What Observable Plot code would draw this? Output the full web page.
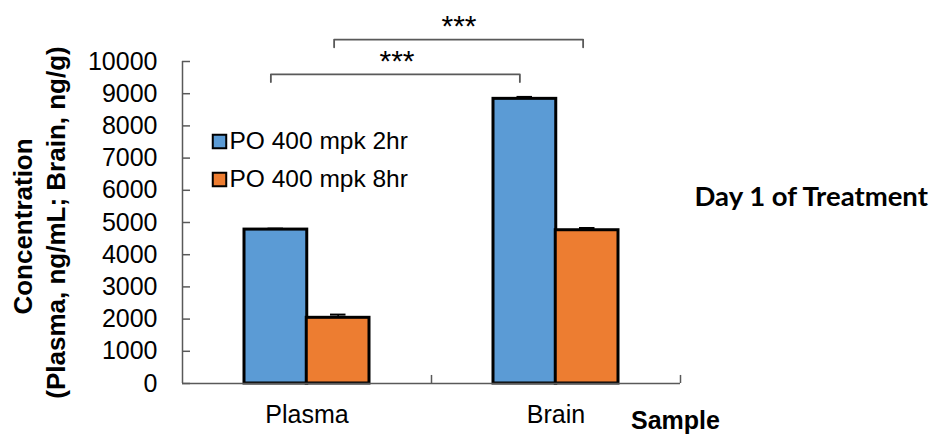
<!DOCTYPE html>
<html>
<head>
<meta charset="utf-8">
<script src="https://cdn.jsdelivr.net/npm/d3@7"></script>
<script src="https://cdn.jsdelivr.net/npm/@observablehq/plot@0.6"></script>
<style>
  html, body { margin: 0; padding: 0; background: #fff; }
  #chart svg { display: block; }
</style>
</head>
<body>
<div id="chart"></div>
<script>
// ---- data ----
const samples = ["Plasma", "Brain"];
const series = ["PO 400 mpk 2hr", "PO 400 mpk 8hr"];
const values2hr = [4780, 8840];
const values8hr = [2040, 4760];
const errors2hr = [30, 60];
const errors8hr = [100, 70];
const yTicks = [0, 1000, 2000, 3000, 4000, 5000, 6000, 7000, 8000, 9000, 10000];
const colors = ["#5B9BD5", "#ED7D31"];
// significance brackets (2hr Plasma vs Brain, 8hr Plasma vs Brain)
const bracketLabels = ["***", "***"];
const bracketTop = [9600, 10680];
const bracketLeg = [9360, 10440];
const starBase = [9700, 10790];

const rows2 = samples.map((s, i) => ({sample: s, value: values2hr[i], err: errors2hr[i]}));
const rows8 = samples.map((s, i) => ({sample: s, value: values8hr[i], err: errors8hr[i]}));

const bracketPts = [];
bracketTop.forEach((t, k) => {
  bracketPts.push({k, sample: "Plasma", y: bracketLeg[k]});
  bracketPts.push({k, sample: "Plasma", y: t});
  bracketPts.push({k, sample: "Brain", y: t});
  bracketPts.push({k, sample: "Brain", y: bracketLeg[k]});
});

const AX = "#595959";
const FONT = "'Liberation Sans', Arial, sans-serif";
const half = 62.25; // half of the band (one bar width)

const marks = [
  // inside y ticks
  Plot.ruleY(yTicks, {stroke: AX, strokeWidth: 1.5, insetRight: 490}),
  // bars
  Plot.barY(rows2, {x: "sample", y: "value", fill: colors[0], stroke: "#000", strokeWidth: 3, insetRight: half}),
  Plot.barY(rows8, {x: "sample", y: "value", fill: colors[1], stroke: "#000", strokeWidth: 3, insetLeft: half}),
  // error bars
  Plot.ruleX(rows2, {x: "sample", y1: "value", y2: d => d.value + d.err, stroke: "#000", strokeWidth: 1.5, dx: -half / 2}),
  Plot.ruleX(rows8, {x: "sample", y1: "value", y2: d => d.value + d.err, stroke: "#000", strokeWidth: 1.5, dx: half / 2}),
  Plot.tickY(rows2, {x: "sample", y: d => d.value + d.err, stroke: "#000", strokeWidth: 2, insetLeft: 23.5, insetRight: 86}),
  Plot.tickY(rows8, {x: "sample", y: d => d.value + d.err, stroke: "#000", strokeWidth: 2, insetLeft: 86, insetRight: 23.5}),
  // axes lines
  Plot.ruleX(["Plasma"], {x: d => d, y1: 0, y2: 10000, stroke: AX, strokeWidth: 1.5, dx: -2 * half}),
  Plot.ruleY([0], {stroke: AX, strokeWidth: 1.5}),
  // category boundary ticks
  Plot.ruleX(samples, {x: d => d, y1: 0, y2: 250, stroke: AX, strokeWidth: 1.5, dx: 2 * half}),
  // brackets
  Plot.line(bracketPts.filter(d => d.k === 0), {x: "sample", y: "y", stroke: AX, strokeWidth: 1.8, dx: -half / 2 - 5, curve: "linear"}),
  Plot.line(bracketPts.filter(d => d.k === 1), {x: "sample", y: "y", stroke: AX, strokeWidth: 1.8, dx: half / 2 - 4, curve: "linear"}),
  Plot.text([bracketLabels[0]], {x: () => "Plasma", y: () => starBase[0], text: d => d, dx: 90, lineAnchor: "bottom", fontSize: 30, fontFamily: FONT, fill: "#000", letterSpacing: 2}),
  Plot.text([bracketLabels[1]], {x: () => "Plasma", y: () => starBase[1], text: d => d, dx: 152, lineAnchor: "bottom", fontSize: 30, fontFamily: FONT, fill: "#000", letterSpacing: 2}),
  // legend
  ...series.map((s, i) => Plot.dot([s], {frameAnchor: "top-left", dx: 37, dy: 80 + i * 38, symbol: "square", r: 7.6, fill: colors[i], stroke: "#000", strokeWidth: 2})),
  ...series.map((s, i) => Plot.text([s], {frameAnchor: "top-left", text: d => d, dx: 47, dy: 80 + i * 38, textAnchor: "start", lineAnchor: "middle", fontSize: 24.5, fontFamily: FONT, fill: "#000"})),
  // y title
  Plot.text(["Concentration"], {frameAnchor: "left", text: d => d, rotate: -90, dx: -159, dy: 4, textAnchor: "middle", fontSize: 26, fontWeight: "bold", fontFamily: FONT, fill: "#000", lineAnchor: "middle"}),
  Plot.text(["(Plasma, ng/mL; Brain, ng/g)"], {frameAnchor: "left", text: d => d, rotate: -90, dx: -126, dy: 0, textAnchor: "middle", fontSize: 26, fontWeight: "bold", fontFamily: FONT, fill: "#000", lineAnchor: "middle"}),
  // x title
  Plot.text(["Sample"], {frameAnchor: "bottom-right", text: d => d, dx: -5, dy: 28, textAnchor: "middle", lineAnchor: "top", fontSize: 25, fontWeight: "bold", fontFamily: FONT, fill: "#000"}),
  // side note
  Plot.text(["Day 1 of Treatment"], {frameAnchor: "right", text: d => d, dx: 14, dy: -25, textAnchor: "start", lineAnchor: "middle", fontSize: 27.5, fontWeight: "bold", fontFamily: "Lato, 'Open Sans', sans-serif", fill: "#000"}),
  // axes
  Plot.axisY({ticks: yTicks, tickSize: 0, tickPadding: 25, tickFormat: d => String(d), fontSize: 25, fontFamily: FONT, fill: "#000"}),
  Plot.axisX({tickSize: 0, tickPadding: 22, fontSize: 25, fontFamily: FONT, fill: "#000"})
];

const chart = Plot.plot({
  width: 932,
  height: 434,
  marginLeft: 182,
  marginRight: 252,
  marginTop: 61,
  marginBottom: 51,
  style: {background: "#fff", overflow: "visible"},
  x: {type: "band", domain: samples, paddingInner: 0.5, paddingOuter: 0.25, label: null},
  y: {domain: [0, 10000], label: null},
  marks
});
document.getElementById("chart").appendChild(chart);
</script>
</body>
</html>
